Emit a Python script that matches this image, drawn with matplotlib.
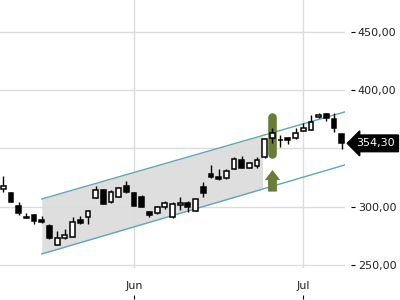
import matplotlib
matplotlib.use("Agg")
import matplotlib.pyplot as plt
import numpy as np
from matplotlib.patches import FancyArrow
from matplotlib.ticker import FuncFormatter
import matplotlib.transforms as mtransforms

# OHLC values, one candle per trading day
opens = [315.0, 311.6, 300.7, 291.6, 293.0, 288.7, 283.6, 267.1, 273.1, 274.4,
         288.7, 291.6, 307.8, 314.4, 303.9, 308.2, 317.8, 311.6, 308.7, 295.8,
         294.5, 299.6, 291.0, 301.6, 303.3, 296.7, 317.2, 328.1, 325.8, 324.4,
         332.4, 340.1, 333.5, 335.0, 342.9, 358.7, 357.2, 358.7, 358.7, 364.9,
         365.8, 376.6, 379.5, 374.9, 362.1]
highs = [326.4, 312.7, 304.1, 294.5, 293.5, 292.2, 285.3, 279.3, 280.8, 291.0,
         292.2, 297.0, 317.8, 315.3, 314.4, 316.7, 322.1, 312.4, 310.4, 296.5,
         300.5, 305.0, 303.9, 308.2, 305.0, 307.0, 321.5, 335.8, 332.4, 332.4,
         342.9, 343.8, 338.5, 342.9, 358.5, 367.2, 361.5, 359.5, 367.2, 371.5,
         378.6, 380.6, 380.6, 380.1, 362.5]
lows = [313.0, 303.8, 293.0, 290.0, 285.0, 286.4, 272.5, 267.0, 272.8, 274.0,
        285.3, 285.3, 307.5, 302.0, 303.5, 308.0, 311.6, 300.5, 299.5, 291.6,
        294.0, 298.4, 290.5, 297.3, 295.8, 296.0, 308.7, 325.0, 323.3, 324.0,
        332.0, 333.0, 333.0, 333.0, 341.5, 354.4, 351.5, 353.8, 358.0, 364.5,
        365.5, 376.0, 373.7, 364.3, 349.2]
closes = [317.8, 304.4, 295.0, 290.2, 288.1, 287.0, 273.1, 273.3, 275.9, 287.3,
          286.4, 296.4, 314.4, 302.2, 312.4, 315.9, 313.0, 301.0, 300.1, 293.0,
          300.1, 303.0, 302.2, 303.0, 300.1, 306.5, 312.1, 325.3, 323.6, 330.7,
          340.7, 333.5, 337.8, 340.1, 357.8, 363.5, 357.2, 357.2, 363.5, 367.2,
          372.9, 378.6, 375.8, 367.7, 354.3]

month_pos = [17, 39]
month_labels = ["Jun", "Jul"]
grid_ticks = [250, 300, 350, 400, 450]
label_ticks = [250, 300, 400, 450]  # 350 sits under the price tag

# trend channel (index, price)
chan_x = [5, 44.4]
chan_upper = [306.7, 381.2]
chan_lower = [259.6, 335.8]
shade_end = 33.7

signal_idx = 35
signal_bar = [345.1, 376.5]
arrow_base, arrow_top = 313.0, 331.5

last_price = closes[-1]

olive = "#6b7c39"
grid_c = "#dcdcdc"

fig = plt.figure(figsize=(4, 3), dpi=100)
ax = fig.add_axes([0, 1 - 268 / 300, 345 / 400, 268 / 300])
ax.set_xlim(-0.43, 44.43)
ax.set_ylim(247.6, 477.0)

for s in ax.spines.values():
    s.set_visible(False)

ax.set_yticks(grid_ticks)
ax.set_xticks(month_pos, month_labels)
ax.grid(True, color=grid_c, lw=1.0, zorder=0)
ax.tick_params(axis="y", left=False, right=False, labelleft=False)
ax.tick_params(axis="x", length=0, pad=9.5, labelsize=8, labelcolor="#222222")

# channel shading + lines
xs = np.linspace(chan_x[0], shade_end, 50)
ax.fill_between(xs, np.interp(xs, chan_x, chan_lower), np.interp(xs, chan_x, chan_upper),
                color="#dedede", lw=0, zorder=1)
ax.plot(chan_x, chan_upper, color="#5fa8b2", lw=1.0, zorder=2)
ax.plot(chan_x, chan_lower, color="#5fa8b2", lw=1.0, zorder=2)

# signal highlight + arrow
ax.plot([signal_idx, signal_idx], signal_bar, color=olive, lw=6.2,
        solid_capstyle="round", zorder=3)
ax.add_patch(FancyArrow(signal_idx, arrow_base, 0, arrow_top - arrow_base,
                        width=1.15, head_width=2.0, head_length=8.6,
                        length_includes_head=True, color=olive, lw=0, zorder=3))

# candles
idx = np.arange(len(opens))
o = np.array(opens)
c = np.array(closes)
up = c >= o
ax.vlines(idx, lows, highs, color="black", lw=1.0, zorder=4)
ax.bar(idx, np.abs(c - o), bottom=np.minimum(o, c), width=0.62,
       color=np.where(up, "white", "black"), edgecolor="black", lw=1.1, zorder=5)

# right price axis with gap
fmt = FuncFormatter(lambda v, p: f"{v:.2f}".replace(".", ","))
ry = ax.secondary_yaxis(1.017)
ry.set_yticks(label_ticks)
ry.yaxis.set_major_formatter(fmt)
ry.tick_params(direction="out", length=3, width=0.8, pad=2, labelsize=8,
               labelcolor="#222222")
ry.spines["right"].set_visible(False)

# bottom tick marks below month labels
bx = ax.secondary_xaxis(-0.1)
bx.set_xticks(month_pos, ["", ""])
bx.tick_params(direction="out", length=3, width=0.8)
bx.spines["bottom"].set_visible(False)

# last price tag
trans = mtransforms.blended_transform_factory(ax.transAxes, ax.transData)
ax.text(1 + 11.5 / 345, last_price, f"{last_price:.2f}".replace(".", ","),
        transform=trans, ha="left", va="center", fontsize=8, color="white",
        bbox=dict(boxstyle="larrow,pad=0.3", fc="black", ec="black"),
        clip_on=False, zorder=10)

fig.savefig("out.png", dpi=100)
